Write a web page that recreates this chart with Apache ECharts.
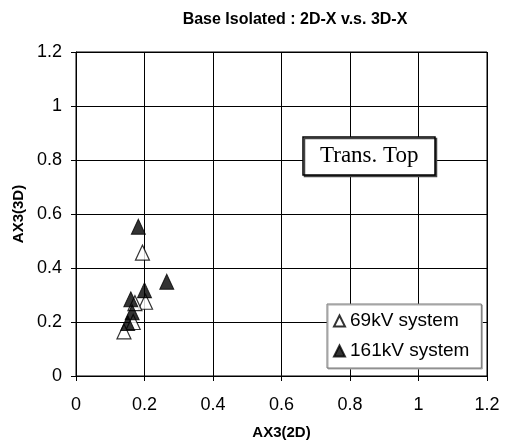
<!DOCTYPE html>
<html>
<head>
<meta charset="utf-8">
<script src="https://cdn.jsdelivr.net/npm/echarts@6/dist/echarts.min.js"></script>
<style>html,body{margin:0;padding:0;background:#fff}#c{width:505px;height:448px}</style>
</head>
<body>
<div id="c"></div>
<script>
const chartTitle = 'Base Isolated : 2D-X v.s. 3D-X';
const xName = 'AX3(2D)';
const yName = 'AX3(3D)';
const boxText = 'Trans. Top';
const seriesNames = ['69kV system', '161kV system'];
const v69 = [[0.194,0.457],[0.203,0.275],[0.172,0.27],[0.167,0.2],[0.14,0.165]];
const v161 = [[0.182,0.553],[0.265,0.349],[0.2,0.318],[0.16,0.284],[0.164,0.236],[0.151,0.196]];
const axisMin = 0, axisMax = 1.2, axisStep = 0.2;

const chart = echarts.init(document.getElementById('c'));
const font = 'Arial, "Liberation Sans", sans-serif';
chart.setOption({
  animation: false,
  backgroundColor: '#fff',
  title: [
    { text: chartTitle, left: 290, top: 7, textAlign: 'center',
      textStyle: { fontSize: 16, fontWeight: 'bold', fontFamily: font, color: '#000' } },
    { text: boxText, left: 303, top: 137, padding: [6, 17, 6, 17],
      backgroundColor: '#fff', borderColor: '#000', borderWidth: 1.5,
      shadowColor: '#444', shadowOffsetX: 1.5, shadowOffsetY: 1.5, shadowBlur: 0,
      textStyle: { fontSize: 23, fontWeight: 'normal', fontFamily: '"Liberation Serif", "Times New Roman", serif', color: '#000', lineHeight: 26 } }
  ],
  grid: { left: 76, top: 52, width: 411, height: 324, show: true, borderColor: '#000', borderWidth: 1 },
  legend: {
    orient: 'vertical', left: 327, top: 304,
    padding: [6, 12, 6, 6], itemWidth: 11, itemHeight: 11, itemGap: 8,
    backgroundColor: '#fff', borderColor: '#777', borderWidth: 1,
    shadowColor: '#aaa', shadowOffsetX: 1, shadowOffsetY: 1, shadowBlur: 0,
    textStyle: { fontSize: 19, fontFamily: font, color: '#000', lineHeight: 22 },
    data: [ { name: seriesNames[0], icon: 'triangle' }, { name: seriesNames[1], icon: 'triangle' } ]
  },
  xAxis: {
    type: 'value', min: axisMin, max: axisMax, interval: axisStep,
    name: xName, nameLocation: 'middle', nameGap: 49,
    nameTextStyle: { fontSize: 15, fontWeight: 'bold', fontFamily: font, color: '#000' },
    axisLine: { onZero: false, lineStyle: { color: '#000', width: 1 } },
    axisTick: { show: true, inside: false, length: 5, lineStyle: { color: '#000' } },
    axisLabel: { fontSize: 18, fontFamily: font, color: '#000', margin: 20 },
    splitLine: { show: true, lineStyle: { color: '#000', width: 1 } }
  },
  yAxis: {
    type: 'value', min: axisMin, max: axisMax, interval: axisStep,
    name: yName, nameLocation: 'middle', nameGap: 50,
    nameTextStyle: { fontSize: 15, fontWeight: 'bold', fontFamily: font, color: '#000' },
    axisLine: { show: true, onZero: false, lineStyle: { color: '#000', width: 1 } },
    axisTick: { show: true, inside: false, length: 5, lineStyle: { color: '#000' } },
    axisLabel: { fontSize: 18, fontFamily: font, color: '#000', margin: 14 },
    splitLine: { show: true, lineStyle: { color: '#000', width: 1 } }
  },
  series: [
    { name: seriesNames[0], type: 'scatter', data: v69, symbol: 'triangle', symbolSize: [14, 15],
      itemStyle: { color: '#fff', borderColor: '#000', borderWidth: 1.2 } },
    { name: seriesNames[1], type: 'scatter', data: v161, symbol: 'triangle', symbolSize: [14, 15],
      itemStyle: { color: '#000', borderColor: '#000', borderWidth: 1 } }
  ]
});
</script>
</body>
</html>
